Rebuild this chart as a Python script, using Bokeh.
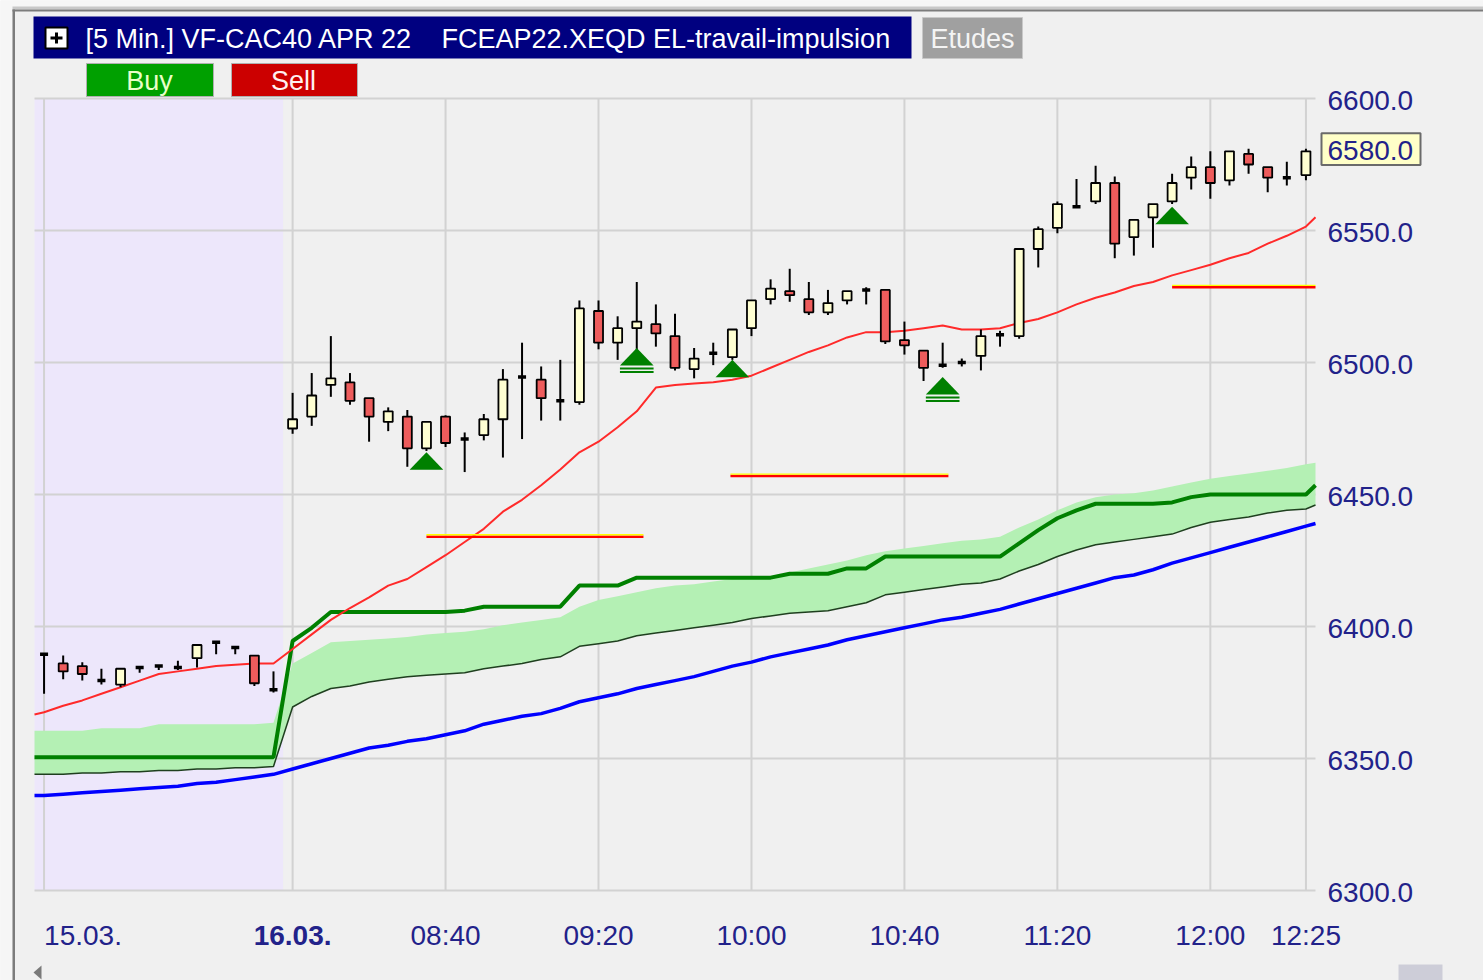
from bokeh.plotting import figure
from bokeh.models import Range1d
from bokeh.core.properties import value
from bokeh.embed import file_html
from bokeh.resources import INLINE

FONT = "Liberation Sans"
BG = "#f0f0f0"
AXIS_TXT = "#22228a"

# ---------------- data (5-min bars; index 0..12 = 15.03., 13.. = 16.03. from 08:00) -------------
day_labels = ["15.03.", "16.03."]
day_ticks = [0, 13]
time_ticks = [21, 29, 37, 45, 53, 61, 66]
time_labels = ["08:40", "09:20", "10:00", "10:40", "11:20", "12:00", "12:25"]
y_ticks = [6300, 6350, 6400, 6450, 6500, 6550, 6600]
y_labels = ["6300.0", "6350.0", "6400.0", "6450.0", "6500.0", "6550.0", "6600.0"]
last_price = 6580.0
last_label = "6580.0"

opens = [6389.5, 6386, 6385, 6379.5, 6378, 6384.5, 6385, 6384.5, 6388, 6394, 6392, 6389, 6376,
         6475, 6479.5, 6491.5, 6492.5, 6486.5, 6477.5, 6479.5, 6467.5, 6479.5, 6471,
         6472.5, 6478.5, 6494.5, 6493.5, 6485.5, 6485, 6519.5, 6507.5, 6513, 6514.5,
         6510, 6497.5, 6503.5, 6502, 6513, 6524, 6527, 6524, 6519, 6523.5,
         6527.5, 6527.5, 6508.5, 6504.5, 6499, 6500, 6502.5, 6510.5, 6510, 6543,
         6551, 6559, 6561, 6568, 6547.5, 6555, 6561, 6570, 6574, 6569,
         6579, 6574, 6570, 6571]
highs = [6389.5, 6389, 6386.5, 6384, 6384, 6384.5, 6385, 6387, 6393, 6394, 6392, 6389, 6383,
         6488.5, 6496, 6510, 6496, 6486.5, 6483, 6482, 6477.5, 6480, 6473.5,
         6480.5, 6497.5, 6507.5, 6498.5, 6501, 6523.5, 6523.5, 6517.5, 6530.5, 6522,
         6518.5, 6505.5, 6507.5, 6512.5, 6523.5, 6531.5, 6535.5, 6530.5, 6527.5, 6527,
         6528.5, 6527.5, 6515.5, 6504.5, 6507.5, 6501.5, 6512.5, 6512, 6543, 6551.5,
         6561, 6569.5, 6574.5, 6570.5, 6554, 6560, 6571.5, 6578, 6580, 6580,
         6581, 6574, 6576, 6581]
lows = [6374.5, 6380, 6379.5, 6378, 6377, 6382.5, 6383.5, 6383.5, 6384.5, 6389.5, 6389.5, 6377.5, 6375,
        6473, 6476, 6487, 6484, 6470, 6474, 6460.5, 6466.5, 6468, 6458.5,
        6470.5, 6464, 6471, 6478, 6478, 6484, 6505, 6501, 6501, 6506,
        6497, 6494, 6499, 6501, 6510, 6522, 6523, 6518, 6518, 6522,
        6522, 6507, 6503, 6493, 6498, 6498.5, 6497, 6506, 6509, 6536,
        6549, 6558.5, 6560, 6539.5, 6540.5, 6543.5, 6560, 6565.5, 6562, 6567,
        6571.5, 6564.5, 6567, 6569]
closes = [6389.5, 6383, 6382, 6379.5, 6384, 6384.5, 6385, 6384.5, 6393, 6394, 6392, 6378.5, 6376,
          6478.5, 6487.5, 6494, 6485.5, 6479.5, 6481.5, 6467.5, 6477.5, 6469.5, 6471,
          6478.5, 6493.5, 6494.5, 6486.5, 6485.5, 6520.5, 6507.5, 6513, 6515.5, 6511,
          6498, 6501.5, 6503.5, 6512.5, 6523.5, 6528, 6525.5, 6519, 6522.5, 6527,
          6527.5, 6508, 6506.5, 6498, 6499, 6500, 6510, 6510.5, 6543, 6550.5,
          6560, 6559, 6568, 6545, 6554, 6560, 6568, 6574, 6568, 6580,
          6575, 6570, 6570, 6580]

# indicator lines: one value per bar, plus the values at the left / right plot edges
ma_red = [6367.5, 6370, 6372, 6374.5, 6377, 6379.5, 6382, 6383, 6384, 6385, 6385.5, 6386, 6386,
          6391.5, 6397, 6402.5, 6407, 6411, 6415.5, 6418, 6422.5,
          6427, 6432, 6437, 6443.5, 6448, 6453.5, 6459.5, 6466, 6470, 6475.5,
          6481.5, 6490.5, 6491.5, 6492, 6492.5, 6493.5, 6495, 6498, 6501, 6504,
          6506.5, 6509.5, 6511.5, 6511.5, 6512, 6513, 6514, 6512.5, 6512.5, 6513,
          6515, 6516.5, 6519, 6522, 6524.5, 6526.5, 6529, 6530.5, 6533, 6535,
          6537, 6539.5, 6541.5, 6545, 6548, 6551.5]
ma_red_edges = [6366.7, 6555]

stop_green = [6350.5, 6350.5, 6350.5, 6350.5, 6350.5, 6350.5, 6350.5, 6350.5, 6350.5, 6350.5, 6350.5, 6350.5, 6350.5,
              6394.5, 6399.5, 6405.5, 6405.5, 6405.5, 6405.5, 6405.5, 6405.5, 6405.5, 6406,
              6407.5, 6407.5, 6407.5, 6407.5, 6407.5, 6415.5, 6415.5, 6415.5,
              6418.5, 6418.5, 6418.5, 6418.5, 6418.5, 6418.5, 6418.5, 6418.5,
              6420, 6420, 6420, 6422, 6422,
              6426.5, 6426.5, 6426.5, 6426.5, 6426.5, 6426.5, 6426.5,
              6431.5, 6436.5, 6441, 6444, 6446.5, 6446.5, 6446.5, 6446.5, 6447, 6449,
              6450, 6450, 6450, 6450, 6450, 6450]
stop_green_edges = [6350.5, 6453.5]

band_low = [6344, 6344, 6344.5, 6344.5, 6345, 6345, 6345.5, 6345.5, 6346, 6346, 6346.5, 6346.5, 6347,
            6369.5, 6373.5, 6376.5, 6377.5, 6379, 6380, 6381, 6381.5, 6382, 6382.5,
            6384, 6385, 6386, 6387.5, 6388.5, 6392.5, 6393.5, 6394.5, 6396.5, 6397.5,
            6398.5, 6399.5, 6400.5, 6401.5, 6403, 6404, 6405, 6405.5, 6406, 6407.5,
            6409, 6412, 6413, 6414, 6415, 6416, 6416.5, 6418, 6421, 6423.5,
            6426.5, 6429, 6431, 6432, 6433, 6434, 6435, 6437.5, 6439.5, 6440.5,
            6441.5, 6443, 6444, 6444.5]
band_low_edges = [6344, 6446]

band_high = [6360.5, 6360.5, 6360.5, 6361.5, 6361.5, 6361.5, 6363, 6363, 6363, 6363, 6363, 6363, 6363.5,
             6386, 6390, 6394, 6394.5, 6395, 6395.5, 6396, 6397, 6397.5, 6398,
             6399, 6400.5, 6401.5, 6402.5, 6403.5, 6407.5, 6410, 6411.5, 6413, 6414.5,
             6415.5, 6416, 6417, 6418, 6418.5, 6419, 6420.5, 6422, 6423.5, 6425,
             6427, 6428.5, 6429.5, 6430.5, 6431.5, 6432.5, 6433, 6434, 6437.5, 6440.5,
             6444, 6447, 6449, 6450, 6450.5, 6451.5, 6453, 6454.5, 6456, 6457,
             6458, 6459, 6460, 6461.5]
band_high_edges = [6360.5, 6462]

ma_blue = [6336, 6336.5, 6337, 6337.5, 6338, 6338.5, 6339, 6339.5, 6340.5, 6341, 6342, 6343, 6344,
           6346, 6348, 6350, 6352, 6354, 6355, 6356.5, 6357.5, 6359, 6360.5,
           6363, 6364.5, 6366, 6367, 6369, 6371.5, 6373, 6374.5, 6376.5, 6378,
           6379.5, 6381, 6383, 6385, 6386.5, 6388.5, 6390, 6391.5, 6393, 6395,
           6396.5, 6398, 6399.5, 6401, 6402.5, 6403.5, 6405, 6406.5, 6408.5, 6410.5,
           6412.5, 6414.5, 6416.5, 6418.5, 6419.5, 6421.5, 6424, 6426, 6428, 6430,
           6432, 6434, 6436, 6438]
ma_blue_edges = [6336, 6439]

# buy signals (bar index, apex price, double underline)
signal_bars = [20, 31, 36, 47, 59]
signal_prices = [6466, 6505.5, 6501, 6494.5, 6559]
signal_double = [False, True, False, True, False]

# level lines (start bar, end bar, price)
level_start = [20, 35.9, 59]
level_end = [31.35, 47.3, 66.5]
level_price = [6434, 6457, 6528.5]

# ---------------- geometry (page pixels) ----------------
W, H = 1483, 980
FL, FR, FT, FB = 34, 1315, 98, 890          # chart area edges
n = len(opens)
X0, X1 = -0.5, n - 0.5
Y0, Y1 = 6300, 6600
sx = (FR - FL) / (X1 - X0)
sy = (FB - FT) / (Y1 - Y0)

p = figure(width=W, height=H,
           x_range=Range1d(X0 - FL / sx, X1 + (W - FR) / sx),
           y_range=Range1d(Y0 - (H - FB) / sy, Y1 + FT / sy),
           toolbar_location=None, output_backend="svg", min_border=0,
           x_axis_location=None, y_axis_location=None)
p.extra_x_ranges = {"px": Range1d(0, W)}
p.extra_y_ranges = {"px": Range1d(H, 0)}
p.grid.visible = False
p.outline_line_color = None
p.background_fill_color = BG
p.border_fill_color = BG

PX = dict(x_range_name="px", y_range_name="px")

idx = list(range(n))
line_x = [X0] + idx + [X1]


def full(vals, edges):
    return [edges[0]] + list(vals) + [edges[1]]


# ---------- window chrome & header ----------
p.quad(left=[0], right=[W], top=[0], bottom=[8], fill_color="#f6f6f6", line_color=None, **PX)
p.quad(left=[0], right=[12], top=[0], bottom=[H], fill_color="#f6f6f6", line_color=None, **PX)
p.quad(left=[12], right=[W], top=[6], bottom=[9], fill_color="#c8c8c8", line_color=None, **PX)
p.quad(left=[12], right=[W], top=[9], bottom=[11], fill_color="#7c7c7c", line_color=None, **PX)
p.quad(left=[12], right=[14.5], top=[9], bottom=[H], fill_color="#7c7c7c", line_color=None, **PX)

p.quad(left=[33], right=[911], top=[16], bottom=[58], fill_color="#000080", line_color=None, **PX)
p.quad(left=[45], right=[67], top=[27], bottom=[48], fill_color="white", line_color="black",
       line_width=2, **PX)
p.segment(x0=[50, 56], x1=[62, 56], y0=[37.5, 32], y1=[37.5, 43], line_color="black", line_width=3, **PX)
p.text(x=[85, 441], y=[38, 38], text=["[5 Min.] VF-CAC40 APR 22", "FCEAP22.XEQD EL-travail-impulsion"],
       text_color="white", text_font=value(FONT), text_font_size="27px",
       text_baseline="middle", text_align="left", **PX)
p.quad(left=[922], right=[1022], top=[17], bottom=[58], fill_color="#a0a0a0", line_color="#c8c8c8", **PX)
p.text(x=[972], y=[38], text=["Etudes"], text_color="#f4f4f4", text_font=value(FONT),
       text_font_size="27px", text_baseline="middle", text_align="center", **PX)
p.quad(left=[86], right=[213], top=[63], bottom=[96], fill_color="#00a000", line_color="#b0b0b0", **PX)
p.quad(left=[231], right=[357], top=[63], bottom=[96], fill_color="#cc0000", line_color="#b0b0b0", **PX)
p.text(x=[149, 293], y=[80, 80], text=["Buy", "Sell"], text_color=["#eaffc8", "#fff0f0"],
       text_font=value(FONT), text_font_size="27px", text_baseline="middle", text_align="center", **PX)

# bottom scrollbar bits
p.patches(xs=[[33, 41, 41]], ys=[[972, 965, 979]], fill_color="#7a7a7a", line_color=None, **PX)
p.quad(left=[1398], right=[1442], top=[964], bottom=[980], fill_color="#cdcdd8", line_color=None, **PX)

# ---------- chart area ----------
p.quad(left=[X0], right=[12.5], bottom=[Y0], top=[Y1], fill_color="#ede7fb", line_color=None)

grid_x = day_ticks + time_ticks
p.segment(x0=grid_x, x1=grid_x, y0=[Y0] * len(grid_x), y1=[Y1] * len(grid_x),
          line_color="#d2d2d2", line_width=2)
p.segment(x0=[X0] * len(y_ticks), x1=[X1] * len(y_ticks), y0=y_ticks, y1=y_ticks,
          line_color="#d2d2d2", line_width=2)

# band + indicator lines
p.varea(x=line_x, y1=full(band_low, band_low_edges), y2=full(band_high, band_high_edges),
        fill_color="#b4f0b4")
p.line(line_x, full(band_low, band_low_edges), line_color="#1f3f1f", line_width=1.5)
p.line(line_x, full(ma_blue, ma_blue_edges), line_color="#0000ff", line_width=3.5)
p.line(line_x, full(stop_green, stop_green_edges), line_color="#008000", line_width=4)
p.line(line_x, full(ma_red, ma_red_edges), line_color="#ff2a2a", line_width=2)

# level lines
p.segment(x0=level_start, x1=level_end, y0=level_price, y1=level_price, line_color="#ff0000", line_width=2.5)
p.segment(x0=level_start, x1=level_end, y0=[v + 0.75 for v in level_price],
          y1=[v + 0.75 for v in level_price], line_color="#ffff00", line_width=1.3)

# candles
bull = [i for i in idx if closes[i] > opens[i]]
bear = [i for i in idx if closes[i] < opens[i]]
doji = [i for i in idx if closes[i] == opens[i]]
p.segment(x0=idx, x1=idx, y0=lows, y1=highs, line_color="black", line_width=2)
p.vbar(x=bull, width=0.47, bottom=[opens[i] for i in bull], top=[closes[i] for i in bull],
       fill_color="#ffffd2", line_color="black", line_width=1.8)
p.vbar(x=bear, width=0.47, top=[opens[i] for i in bear], bottom=[closes[i] for i in bear],
       fill_color="#ee5c5c", line_color="black", line_width=1.8)
p.vbar(x=doji, width=0.42, top=[opens[i] for i in doji], bottom=[closes[i] for i in doji],
       fill_color="black", line_color="black", line_width=3.5)

# buy signal triangles
TW, TH = 0.88, 6.6
p.patches(xs=[[b - TW, b + TW, b] for b in signal_bars],
          ys=[[a - TH, a - TH, a] for a in signal_prices],
          fill_color="#008000", line_color=None)
dbl_b = [b for b, d in zip(signal_bars, signal_double) if d]
dbl_a = [a for a, d in zip(signal_prices, signal_double) if d]
for off in (1.15, 2.5):
    p.segment(x0=[b - TW for b in dbl_b], x1=[b + TW for b in dbl_b],
              y0=[a - TH - off for a in dbl_a], y1=[a - TH - off for a in dbl_a],
              line_color="#008000", line_width=2)

# ---------- axis labels ----------
# price axis (right)
p.text(x=[FR + 12] * len(y_ticks), y=y_ticks, text=y_labels, y_offset=2,
       text_color=AXIS_TXT, text_font=value(FONT), text_font_size="28px",
       text_baseline="middle", text_align="left", x_range_name="px")
# last price marker
p.quad(left=[FR + 6], right=[FR + 105], top=[last_price + 6.8], bottom=[last_price - 5.2],
       fill_color="#ffffc8", line_color="#6a6a6a", line_width=2, x_range_name="px")
p.text(x=[FR + 12], y=[last_price], text=[last_label], y_offset=-1,
       text_color=AXIS_TXT, text_font=value(FONT), text_font_size="28px",
       text_baseline="middle", text_align="left", x_range_name="px")
# time axis (below)
p.text(x=time_ticks, y=[935] * len(time_ticks), text=time_labels,
       text_color=AXIS_TXT, text_font=value(FONT), text_font_size="28px",
       text_baseline="middle", text_align="center", y_range_name="px")
p.text(x=[day_ticks[0]], y=[935], text=[day_labels[0]],
       text_color=AXIS_TXT, text_font=value(FONT), text_font_size="28px",
       text_baseline="middle", text_align="left", y_range_name="px")
p.text(x=[day_ticks[1]], y=[935], text=[day_labels[1]],
       text_color=AXIS_TXT, text_font=value(FONT), text_font_size="28px", text_font_style="bold",
       text_baseline="middle", text_align="center", y_range_name="px")

open("out.html", "w").write(file_html(p, INLINE))
